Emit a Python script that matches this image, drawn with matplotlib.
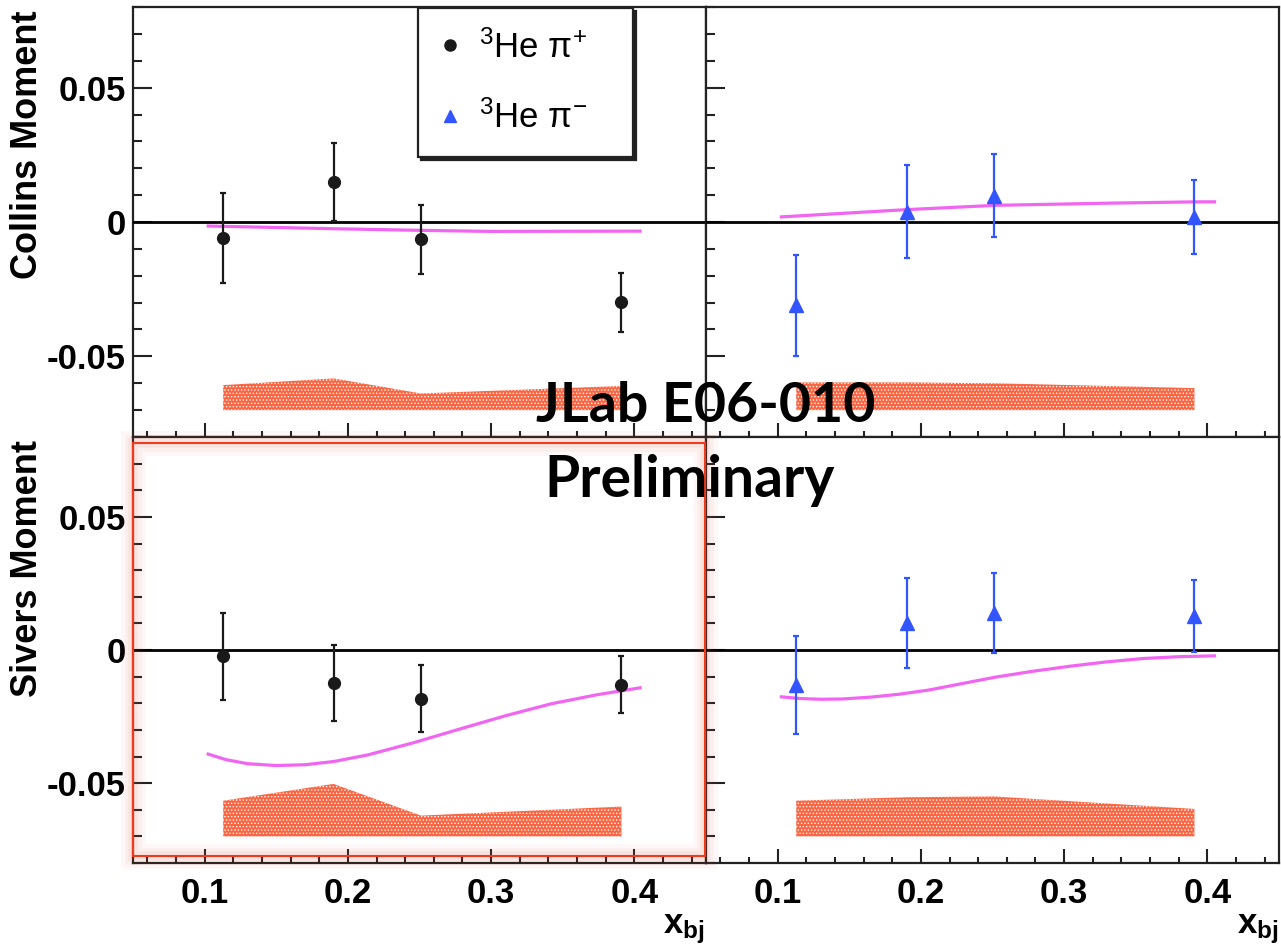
import matplotlib as mpl
import matplotlib.pyplot as plt
from matplotlib.lines import Line2D
from matplotlib.patches import Rectangle
from matplotlib.ticker import MultipleLocator, FuncFormatter

mpl.rcParams['font.family'] = ['Liberation Sans', 'DejaVu Sans']
mpl.rcParams['mathtext.fontset'] = 'custom'
mpl.rcParams['mathtext.rm'] = 'Liberation Sans'
mpl.rcParams['mathtext.it'] = 'Liberation Sans:italic'
mpl.rcParams['mathtext.bf'] = 'Liberation Sans:bold'
mpl.rcParams['hatch.linewidth'] = 0.6

# x_bj bins
x_bins = [0.113, 0.190, 0.251, 0.391]

# Collins moments
collins_pip = [-0.0060, 0.0148, -0.0065, -0.0299]
collins_pip_err = [0.0168, 0.0145, 0.0127, 0.0110]
collins_pim = [-0.0310, 0.0038, 0.0098, 0.0019]
collins_pim_err = [0.0188, 0.0173, 0.0155, 0.0139]

# Sivers moments
sivers_pip = [-0.0024, -0.0124, -0.0183, -0.0130]
sivers_pip_err = [0.0163, 0.0143, 0.0125, 0.0107]
sivers_pim = [-0.0132, 0.0102, 0.0138, 0.0129]
sivers_pim_err = [0.0183, 0.0168, 0.0150, 0.0135]

# systematic bands (base and upper edge)
sys_base = -0.070
collins_pip_sys = [-0.0607, -0.0582, -0.0638, -0.0610]
collins_pim_sys = [-0.0597, -0.0597, -0.0600, -0.0618]
sivers_pip_sys = [-0.0566, -0.0503, -0.0622, -0.0588]
sivers_pim_sys = [-0.0566, -0.0553, -0.0550, -0.0597]

# model curves
collins_pip_th_x = [0.1025, 0.19, 0.25, 0.30, 0.404]
collins_pip_th_y = [-0.0015, -0.0025, -0.0031, -0.0035, -0.0034]
collins_pim_th_x = [0.1026, 0.19, 0.252, 0.33, 0.392, 0.405]
collins_pim_th_y = [0.0019, 0.0046, 0.0062, 0.0070, 0.0075, 0.0075]
sivers_pip_th_x = [0.1025, 0.115, 0.130, 0.150, 0.170, 0.190, 0.214, 0.246, 0.278, 0.310, 0.342, 0.374, 0.404]
sivers_pip_th_y = [-0.0391, -0.0412, -0.0427, -0.0434, -0.0431, -0.0419, -0.0394, -0.0348, -0.0297, -0.0247, -0.0202, -0.0168, -0.0142]
sivers_pim_th_x = [0.1026, 0.115, 0.130, 0.145, 0.165, 0.185, 0.206, 0.227, 0.252, 0.278, 0.304, 0.329, 0.355, 0.381, 0.405]
sivers_pim_th_y = [-0.0176, -0.0182, -0.0185, -0.0184, -0.0177, -0.0166, -0.0150, -0.0128, -0.0102, -0.0080, -0.0061, -0.0045, -0.0032, -0.0025, -0.0022]

legend_labels = [r'$^{3}$He $\mathrm{\pi}^{+}$', r'$^{3}$He $\mathrm{\pi}^{-}$']

W, H = 1281, 952
fig = plt.figure(figsize=(W / 100, H / 100), dpi=100)

def px_axes(x0, y0, x1, y1):
    return fig.add_axes([x0 / W, 1 - y1 / H, (x1 - x0) / W, (y1 - y0) / H])

ax_cl = px_axes(133, 7, 706, 437)
ax_cr = px_axes(706, 7, 1279, 437)
ax_sl = px_axes(133, 437, 706, 863)
ax_sr = px_axes(706, 437, 1279, 863)

magenta = '#f265f2'
blue = '#3355ff'
band = '#fb6542'
fmt = FuncFormatter(lambda v, _: '0' if abs(v) < 1e-9 else f'{v:g}')

panels = [
    (ax_cl, collins_pip, collins_pip_err, collins_pip_sys, collins_pip_th_x, collins_pip_th_y, 'o', '#1a1a1a'),
    (ax_cr, collins_pim, collins_pim_err, collins_pim_sys, collins_pim_th_x, collins_pim_th_y, '^', blue),
    (ax_sl, sivers_pip, sivers_pip_err, sivers_pip_sys, sivers_pip_th_x, sivers_pip_th_y, 'o', '#1a1a1a'),
    (ax_sr, sivers_pim, sivers_pim_err, sivers_pim_sys, sivers_pim_th_x, sivers_pim_th_y, '^', blue),
]

for ax, y, yerr, sys_top, thx, thy, mk, col in panels:
    ax.fill_between(x_bins, sys_base, sys_top, facecolor=band, edgecolor='white',
                    hatch='.....', lw=0, zorder=1)
    ax.plot(thx, thy, color=magenta, lw=2.3, zorder=2)
    ax.axhline(0, color='black', lw=2, zorder=3)
    ax.errorbar(x_bins, y, yerr=yerr, fmt=mk, color=col, ms=8.5 if mk == 'o' else 10,
                elinewidth=1.6, capsize=2.5, capthick=1.6, zorder=4)
    ax.set_xlim(0.05, 0.45)
    ax.set_ylim(-0.08, 0.08)
    ax.xaxis.set_major_locator(MultipleLocator(0.1))
    ax.xaxis.set_minor_locator(MultipleLocator(0.02))
    ax.yaxis.set_major_locator(MultipleLocator(0.05))
    ax.yaxis.set_minor_locator(MultipleLocator(0.01))
    ax.xaxis.set_major_formatter(fmt)
    ax.yaxis.set_major_formatter(fmt)
    ax.tick_params(which='both', direction='in', top=False, right=False,
                   width=1.5, color='#222222', labelsize=25)
    ax.tick_params(axis='y', which='major', length=14, pad=5)
    ax.tick_params(axis='y', which='minor', length=6.5)
    ax.tick_params(axis='x', which='major', length=10, pad=10)
    ax.tick_params(axis='x', which='minor', length=4.5)
    for s in ax.spines.values():
        s.set_linewidth(1.6)
        s.set_color('#222222')
    for lab in ax.get_xticklabels() + ax.get_yticklabels():
        lab.set_fontweight('bold')

for ax in (ax_cl, ax_cr):
    ax.tick_params(labelbottom=False)
for ax in (ax_cr, ax_sr):
    ax.tick_params(labelleft=False)

handles = [Line2D([], [], ls='none', marker='o', color='#1a1a1a', ms=8),
           Line2D([], [], ls='none', marker='^', color=blue, ms=8)]
leg = ax_cl.legend(handles, legend_labels,
                   loc='upper left', bbox_to_anchor=(0.4974, 0.662, 0.3752, 0.335),
                   mode='expand', borderaxespad=0,
                   fontsize=25, frameon=True, fancybox=False, edgecolor='#222222',
                   shadow={'color': '#222222', 'alpha': 1.0},
                   handlelength=0.6, handletextpad=0.55, labelspacing=1.05,
                   borderpad=0.62, framealpha=1)
leg.get_frame().set_linewidth(1.6)
leg.set_zorder(10)

# axis titles
fig.text(28 / W, 1 - 10 / H, 'Collins Moment', rotation=90, ha='center', va='top',
         fontsize=26, fontweight='bold')
fig.text(28 / W, 1 - 440 / H, 'Sivers Moment', rotation=90, ha='center', va='top',
         fontsize=26, fontweight='bold')
fig.text(705 / W, 1 - 933 / H, r'$\mathbf{x}_{\mathbf{bj}}$', ha='right', va='baseline', fontsize=25)
fig.text(1279 / W, 1 - 933 / H, r'$\mathbf{x}_{\mathbf{bj}}$', ha='right', va='baseline', fontsize=25)

# red highlight box around the bottom-left panel
rx0, ry0, rx1, ry1 = 133, 443, 705, 856
for lw, a in [(18, 0.04), (12, 0.05), (7, 0.07)]:
    fig.patches.append(Rectangle((rx0 / W, 1 - ry1 / H), (rx1 - rx0) / W, (ry1 - ry0) / H,
                                 transform=fig.transFigure, fill=False, ec='#e05040',
                                 lw=lw, alpha=a, zorder=20))
fig.patches.append(Rectangle((rx0 / W, 1 - ry1 / H), (rx1 - rx0) / W, (ry1 - ry0) / H,
                             transform=fig.transFigure, fill=False, ec='#f03a1c', lw=1.5, zorder=21))

fig.text(706 / W, 1 - 422 / H, 'JLab E06-010', ha='center', va='baseline',
         fontsize=40, fontweight='bold', family='Lato', zorder=30)
fig.text(690 / W, 1 - 497 / H, 'Preliminary', ha='center', va='baseline',
         fontsize=41, fontweight='bold', family='Lato', zorder=30)

fig.savefig('out.png', dpi=100)
